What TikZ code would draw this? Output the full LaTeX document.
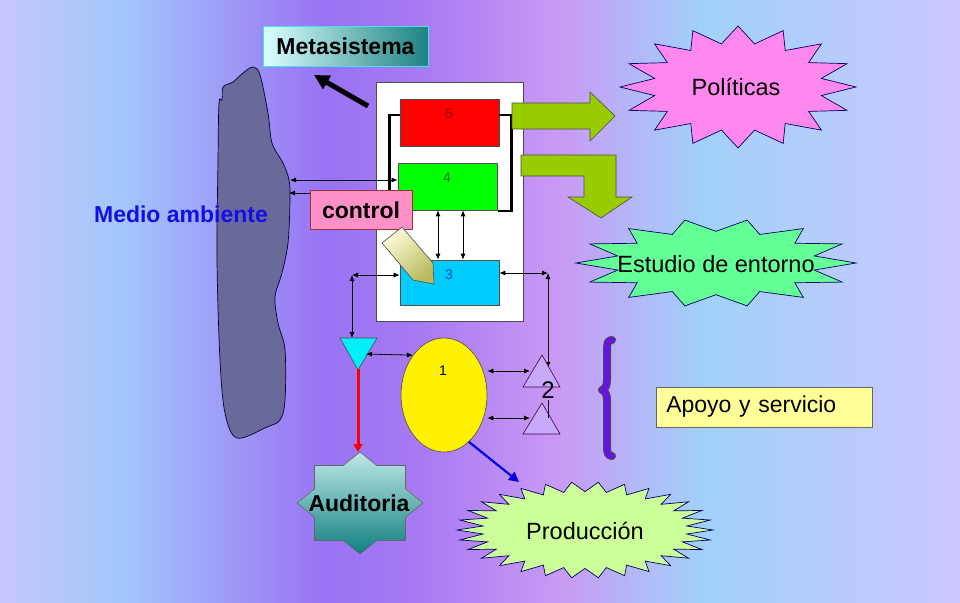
\documentclass[tikz,border=0pt]{standalone}
\usepackage{fontspec}
\setmainfont{Liberation Sans}
\usetikzlibrary{arrows.meta,shapes.geometric,calc}

\pgfdeclarehorizontalshading{bgshade}{100bp}{rgb(0bp)=(0.78,0.78,0.98); rgb(25bp)=(0.78,0.78,0.98); rgb(31.25bp)=(0.64,0.78,0.98); rgb(42bp)=(0.60,0.45,0.96); rgb(47bp)=(0.66,0.48,0.95); rgb(54bp)=(0.79,0.60,0.96); rgb(61.5bp)=(0.63,0.82,0.98); rgb(75bp)=(0.80,0.78,0.99); rgb(100bp)=(0.80,0.78,0.99)}

\definecolor{blobfill}{RGB}{106,106,154}
\definecolor{mablue}{RGB}{16,16,230}
\definecolor{metaL}{RGB}{220,255,255}
\definecolor{metaR}{RGB}{30,130,130}
\definecolor{metaB}{RGB}{60,230,230}
\definecolor{grarrow}{RGB}{153,204,0}
\definecolor{polpink}{RGB}{255,136,238}
\definecolor{estgreen}{RGB}{100,255,150}
\definecolor{prodgreen}{RGB}{204,255,153}
\definecolor{ctrlpink}{RGB}{255,144,200}
\definecolor{apoyo}{RGB}{255,255,153}
\definecolor{bracepurple}{RGB}{100,20,220}
\definecolor{tripurple}{RGB}{200,170,250}
\definecolor{tricyan}{RGB}{0,240,250}
\definecolor{bcyan}{RGB}{0,204,255}
\definecolor{audtop}{RGB}{192,232,232}
\definecolor{audbot}{RGB}{16,128,128}
\definecolor{penL}{RGB}{252,252,215}
\definecolor{penD}{RGB}{185,185,95}

\newcommand\drawburst[6]{%
  \pgfmathtruncatemacro\burstlast{2*#5-1}%
  \draw[#1, shift={#2}] (0:#3 and #4)
    \foreach \k in {1,...,\burstlast} {
      -- ({\k*180/#5}:{(#6+(1-#6)*mod(\k+1,2))*#3} and {(#6+(1-#6)*mod(\k+1,2))*#4})
    } -- cycle;%
}

\begin{document}
\begin{tikzpicture}[x=1pt,y=-1pt,
  txt/.style={font=\fontsize{23.5}{26}\selectfont, inner sep=0pt},
  btxt/.style={font=\fontsize{23}{26}\selectfont\bfseries, inner sep=0pt},
  numtxt/.style={font=\fontsize{14}{16}\selectfont, inner sep=0pt},
  ar/.style={{Latex[length=6pt,width=5pt]}-{Latex[length=6pt,width=5pt]}, line width=0.8pt},
  arl/.style={{Latex[length=6pt,width=5pt]}-, line width=0.8pt},
  sysbox/.style={draw=black!70, line width=0.6pt, minimum width=99pt, minimum height=47pt, inner sep=0pt},
  gshape/.style={fill=grarrow, draw=black!70, line width=0.6pt},
  starline/.style={draw=black!60!blue, line width=0.7pt},
]
\useasboundingbox (0,0) rectangle (960,602);
\shade[shading=bgshade] (0,0) rectangle (960,602);

% Medio ambiente blob
\draw[fill=blobfill, draw=black!80!blue, line width=0.7pt] plot[smooth cycle, tension=0.55] coordinates {(253,67) (260,75) (268,113) (272,143) (283,163) (289,180) (290,200) (288,243) (282,273) (275,297) (278,323) (285,350) (285,400) (280,420) (267,427) (237,438) (225,413) (220,360) (217,260) (218,160) (219,103) (222,100) (223,87) (233,82) (243,73)};
\coordinate (env1) at (290,180);
\coordinate (env2) at (289,193);
\node[btxt, text=mablue] (ma) at (181,214) {Medio ambiente};

% Metasistema
\node[btxt, draw=metaB, line width=1pt, left color=metaL, right color=metaR, minimum width=165pt, minimum height=39pt] (meta) at (345.5,46.5) {Metasistema};
\coordinate (mt) at (368,106);
\coordinate (mtip) at (314,75);
\draw[line width=5pt, -{Triangle[length=15pt,width=15pt]}] (mt) -- (mtip);

% system box
\node[draw=black!70, fill=white, minimum width=147pt, minimum height=239pt, inner sep=0pt] (sys) at (449.5,201.5) {};

\node[sysbox, fill=red] (b5) at (449.5,123) {};
\node[sysbox, fill=green] (b4) at (447.5,186.5) {};
\node[sysbox, fill=bcyan, minimum height=45pt] (b3) at (449.5,282.5) {};
\node[numtxt, text=red!55!black] (n5) at (449,114) {5};
\node[numtxt, text=green!45!black] (n4) at (447,178) {4};
\node[numtxt, text=blue!60!cyan!75!black] (n3) at (449,275) {3};

% brackets
\draw[line width=2.5pt] (b5.west) ++(0,-8) -- ++(-10,0) -- ++(0,85);
\draw[line width=2.5pt] (b5.east) ++(0,-8) -- ++(12,0) -- ++(0,96) -- ++(-13,0);

% green arrows
\draw[gshape] (512,103) -- (590,103) -- (590,92) -- (615,116) -- (590,141) -- (590,129) -- (512,129) -- cycle;
\draw[gshape] (521,155) -- (616,155) -- (616,197) -- (632,197) -- (601,218) -- (568,197) -- (584,197) -- (584,176) -- (521,176) -- cycle;

% arrows box4 <-> box3
\draw[ar] ([xshift=-9.5pt]b4.south) -- ([xshift=-9.5pt]b4.south |- b3.north);
\draw[ar] ([xshift=15.5pt]b4.south) -- ([xshift=15.5pt]b4.south |- b3.north);

\draw[ar] (env1) -- (env1 -| b4.west);

% control
\node[btxt, draw=red!50!black!80, fill=ctrlpink, minimum width=102pt, minimum height=39pt] (ctrl) at (361,210) {control};
\draw[arl] (env2) -- (env2 -| ctrl.west);

% pencil
\draw[draw=black!70, line width=0.6pt, top color=penL, bottom color=penD, shading angle=40] (382,243) -- (402,227) -- (433,263) -- (434,284) -- (413,280) -- cycle;

% left and right links around box 3
\coordinate (L) at (352,275);
\coordinate (cytop) at (352,338);
\coordinate (R) at (548,273);
\coordinate (t2in) at (548,368);
\draw[ar] (L) -- (L -| b3.west);
\draw[ar] (L) -- (cytop);
\draw[ar] (R -| b3.east) -- (R);
\draw[ar] (R) -- (t2in);

% triangles
\draw[fill=tricyan, draw=black!70, line width=0.6pt] (340,338) -- (377,338) -- (358,370) -- cycle;
\coordinate (cyR) at (366,354);
\coordinate (cyB) at (358,369);
\draw[fill=tripurple, draw=purple!40!black!80!blue, line width=0.6pt] (542,355) -- (560,387) -- (523,387) -- cycle;
\draw[fill=tripurple, draw=purple!40!black!80!blue, line width=0.6pt] (542,403) -- (560,434) -- (523,434) -- cycle;
\node[font=\fontsize{24}{26}\selectfont, inner sep=0pt] (n2) at (548,390) {2};
\draw[line width=0.6pt] (548,400) -- (548,418);

% ellipse
\node[ellipse, draw=black!70, line width=0.6pt, fill=yellow, minimum width=86pt, minimum height=114pt, inner sep=0pt] (e1) at (444,395) {};
\node[numtxt] (n1) at (443,371) {1};
\coordinate (p2a) at (530,371);
\coordinate (p2b) at (530,418);
\draw[ar] (cyR) -- (e1.128);
\draw[ar] (p2a -| e1.east) -- (p2a);
\draw[ar] (p2b -| e1.east) -- (p2b);

% brace
\draw[line width=8pt, draw=black!70, line cap=round, line join=round] (612,340) .. controls (607,340) and (607,344) .. (607,352) -- (607,380) .. controls (607,386) and (605,389) .. (602,390) .. controls (605,391) and (607,394) .. (607,400) -- (607,446) .. controls (607,453) and (608,456) .. (612,456);
\draw[line width=6pt, draw=bracepurple, line cap=round, line join=round] (612,340) .. controls (607,340) and (607,344) .. (607,352) -- (607,380) .. controls (607,386) and (605,389) .. (602,390) .. controls (605,391) and (607,394) .. (607,400) -- (607,446) .. controls (607,453) and (608,456) .. (612,456);

% Apoyo
\node[font=\fontsize{23}{26}\selectfont, inner sep=0pt, draw=black!60, line width=0.6pt, fill=apoyo, anchor=west, text width=196pt, align=left, inner xsep=10pt, minimum height=40pt] (apo) at (656,407) {Apoyo y servicio};

% stars
\drawburst{starline, fill=polpink}{(738,87)}{118}{61}{16}{0.72}
\node[txt] (pol) at (736,87) {Políticas};
\drawburst{starline, fill=estgreen}{(716,263)}{140}{44}{14}{0.72}
\node[txt] (est) at (716,264) {Estudio de entorno};
\drawburst{starline, fill=prodgreen}{(585,530)}{128}{48}{30}{0.8}
\node[txt] (prod) at (585,531) {Producción};
\coordinate (prodtip) at (519,482);

% Auditoria
\draw[draw=black!60, line width=0.6pt, top color=audtop, bottom color=audbot, shift={(360,503)}]
  (63,0) -- (45.5,-14.2) -- (45.5,-37.5) -- (16.7,-37.5) -- (0,-51) -- (-16.7,-37.5) -- (-45.5,-37.5) -- (-45.5,-14.2) -- (-63,0) -- (-45.5,14.2) -- (-45.5,37.5) -- (-16.7,37.5) -- (0,51) -- (16.7,37.5) -- (45.5,37.5) -- (45.5,14.2) -- cycle;
\node[btxt] (aud) at (359,503) {Auditoria};
\coordinate (audtopc) at (358,452);

% red and blue arrows
\draw[red, line width=3pt, -{Triangle[length=8pt,width=9pt]}] (cyB) -- (audtopc);
\draw[blue!88!black, line width=2.2pt, -{Triangle[length=10pt,width=10pt]}] (e1.-62) -- (prodtip);
\end{tikzpicture}
\end{document}
